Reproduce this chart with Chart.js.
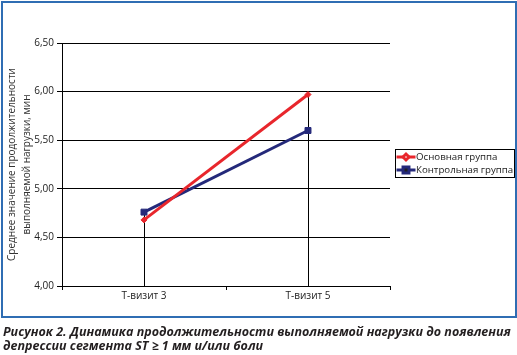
<!DOCTYPE html>
<html><head><meta charset="utf-8">
<script src="https://cdn.jsdelivr.net/npm/chart.js@4/dist/chart.umd.min.js"></script>
<style>
html,body{margin:0;padding:0;background:#fff;}
#wrap{position:relative;width:517px;height:355px;overflow:hidden;}
#c{position:absolute;left:0;top:0;}
#frame{position:absolute;left:1px;top:1px;width:516px;height:317px;box-sizing:border-box;border:2px solid #2f6db3;pointer-events:none;}
#cap{position:absolute;left:3px;top:325px;width:514px;font-family:"Open Sans",sans-serif;font-weight:bold;font-style:italic;font-size:12.5px;line-height:14px;color:#231f20;white-space:nowrap;}
</style></head>
<body><div id="wrap">
<canvas id="c" width="517" height="318"></canvas>
<div id="frame"></div>
<div id="cap">Рисунок 2. Динамика продолжительности выполняемой нагрузки до появления<br>депрессии сегмента ST ≥ 1 мм и/или боли</div>
</div>
<script>
const categories = ['Т-визит 3', 'Т-визит 5'];
const mainGroup = [4.68, 5.97];
const controlGroup = [4.76, 5.60];
const seriesNames = ['Основная группа', 'Контрольная группа'];
const yTitle = ['Среднее значение продолжительности', 'выполняемой нагрузки, мин'];

const FONT = '"Open Sans", sans-serif';

const dropLines = {
  id: 'dropLines',
  beforeDatasetsDraw(chart) {
    const {ctx, scales: {x, y}, chartArea} = chart;
    ctx.save();
    ctx.strokeStyle = '#000';
    ctx.lineWidth = 1;
    categories.forEach((c, i) => {
      const vals = chart.data.datasets.map(d => d.data[i]);
      const top = y.getPixelForValue(Math.max(...vals));
      const px = Math.round(x.getPixelForValue(i)) + 0.5;
      ctx.beginPath();
      ctx.moveTo(px, top);
      ctx.lineTo(px, chartArea.bottom);
      ctx.stroke();
    });
    ctx.restore();
  }
};

const boxLegend = {
  id: 'boxLegend',
  afterDraw(chart) {
    const ctx = chart.ctx;
    const bx = 395.5, by = 149.5, bw = 119, bh = 28;
    ctx.save();
    ctx.fillStyle = '#fff';
    ctx.fillRect(bx, by, bw, bh);
    ctx.strokeStyle = '#000';
    ctx.lineWidth = 1;
    ctx.strokeRect(bx, by, bw, bh);
    ctx.font = '9.7px ' + FONT;
    ctx.textBaseline = 'middle';
    chart.data.datasets.forEach((d, i) => {
      const yy = by + 7.5 + i * 13;
      ctx.strokeStyle = d.borderColor;
      ctx.lineWidth = 3;
      ctx.beginPath();
      ctx.moveTo(bx + 1, yy);
      ctx.lineTo(bx + 20, yy);
      ctx.stroke();
      Chart.helpers.drawPoint(ctx, {pointStyle: d.pointStyle, radius: d.pointRadius, borderWidth: 1}, bx + 10.5, yy);
      ctx.fillStyle = '#222';
      ctx.fillText(d.label, bx + 20.5, yy);
    });
    ctx.restore();
  }
};

new Chart(document.getElementById('c'), {
  type: 'line',
  data: {
    labels: categories,
    datasets: [
      {label: seriesNames[0], data: mainGroup, borderColor: '#e8262c', backgroundColor: '#e8262c', borderWidth: 3, pointStyle: 'rectRot', pointRadius: 3, pointBorderWidth: 1, tension: 0},
      {label: seriesNames[1], data: controlGroup, borderColor: '#24297a', backgroundColor: '#24297a', borderWidth: 3, pointStyle: 'rect', pointRadius: 4.2, pointBorderWidth: 1, tension: 0}
    ]
  },
  options: {
    responsive: false,
    animation: false,
    devicePixelRatio: 1,
    layout: {padding: {left: 0, right: 127, top: 43, bottom: 0}},
    plugins: {legend: {display: false}, tooltip: {enabled: false}},
    scales: {
      x: {
        offset: true,
        grid: {offset: true, color: c => c.index === 2 ? '#000' : 'rgba(0,0,0,0)', tickColor: '#000', tickLength: 4, lineWidth: 1},
        border: {display: true, color: '#000', width: 1},
        ticks: {color: '#222', font: {family: FONT, size: 10}, padding: 0},
        afterFit: s => { s.height = 32; }
      },
      y: {
        min: 4, max: 6.5,
        ticks: {stepSize: 0.5, color: '#222', font: {family: FONT, size: 10}, padding: 3,
          callback: v => v.toFixed(2).replace('.', ',')},
        grid: {color: '#000', tickLength: 5, lineWidth: 1},
        border: {display: true, color: '#000', width: 1},
        title: {display: true, text: yTitle, color: '#333', font: {family: FONT, size: 10, lineHeight: 1.45}, padding: {top: 5, bottom: 0}},
        afterFit: s => { s.width = 62; }
      }
    }
  },
  plugins: [dropLines, boxLegend]
});
</script>
</body></html>
